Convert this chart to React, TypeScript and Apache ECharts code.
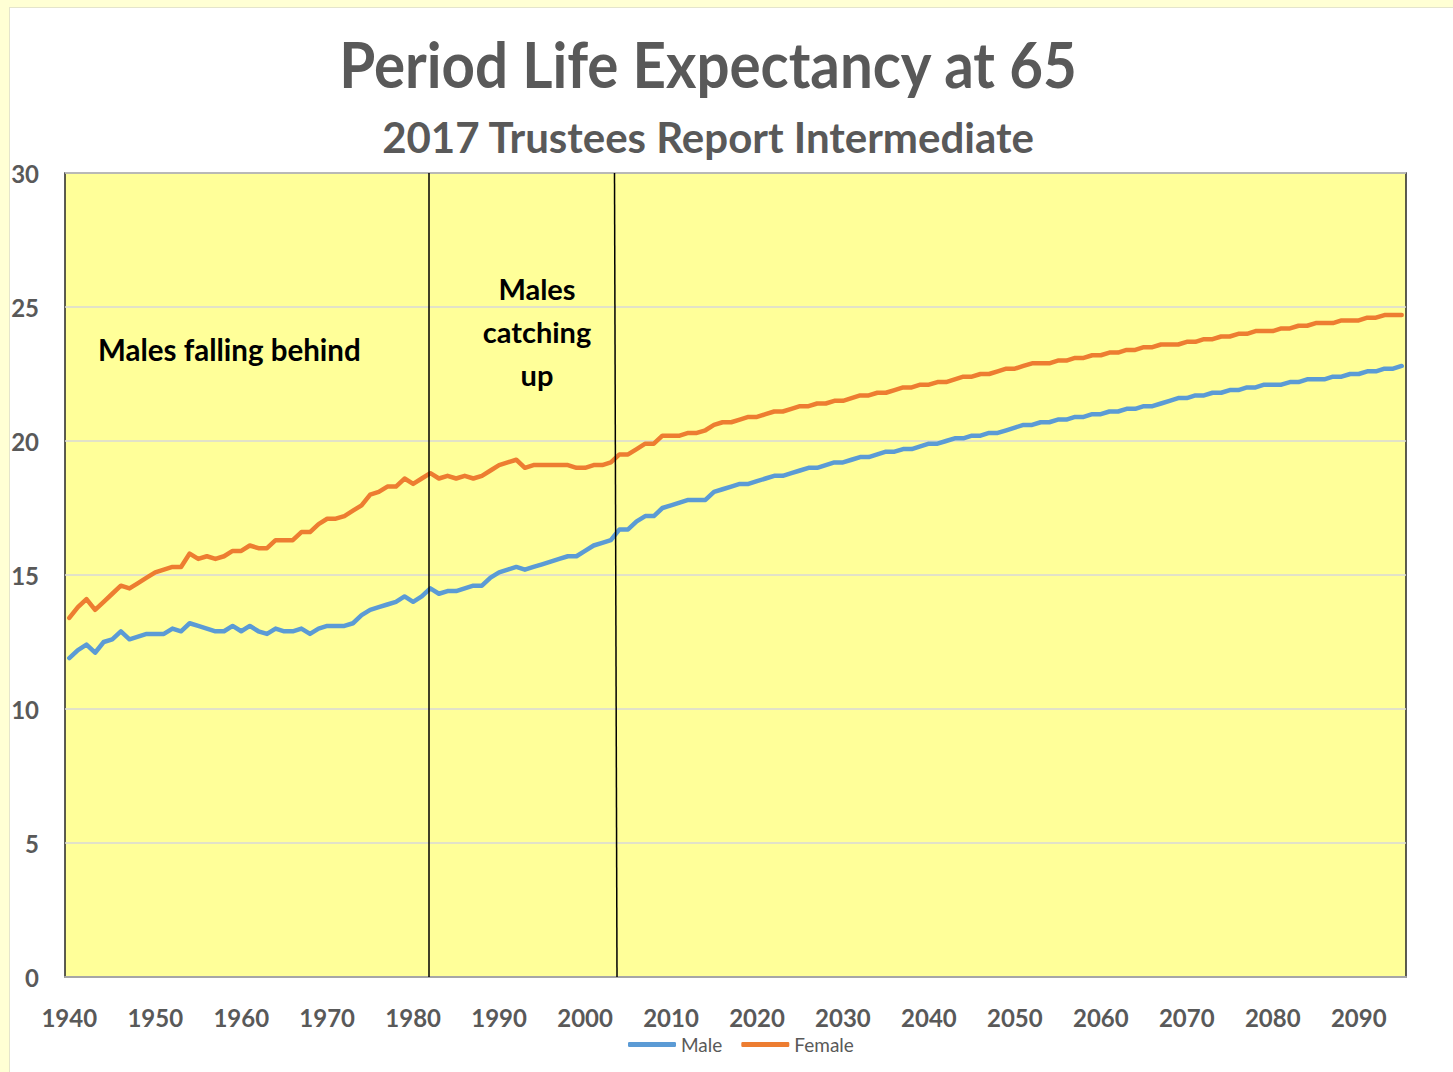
import React, { useEffect, useRef } from "react";
import * as echarts from "echarts";

const START_YEAR = 1940;

// Period life expectancy at 65, males (1940 .. 2095)
const male: number[] = [
  11.9, 12.2, 12.4, 12.1, 12.5, 12.6, 12.9, 12.6, 12.7, 12.8,
  12.8, 12.8, 13.0, 12.9, 13.2, 13.1, 13.0, 12.9, 12.9, 13.1,
  12.9, 13.1, 12.9, 12.8, 13.0, 12.9, 12.9, 13.0, 12.8, 13.0,
  13.1, 13.1, 13.1, 13.2, 13.5, 13.7, 13.8, 13.9, 14.0, 14.2,
  14.0, 14.2, 14.5, 14.3, 14.4, 14.4, 14.5, 14.6, 14.6, 14.9,
  15.1, 15.2, 15.3, 15.2, 15.3, 15.4, 15.5, 15.6, 15.7, 15.7,
  15.9, 16.1, 16.2, 16.3, 16.7, 16.7, 17.0, 17.2, 17.2, 17.5,
  17.6, 17.7, 17.8, 17.8, 17.8, 18.1, 18.2, 18.3, 18.4, 18.4,
  18.5, 18.6, 18.7, 18.7, 18.8, 18.9, 19.0, 19.0, 19.1, 19.2,
  19.2, 19.3, 19.4, 19.4, 19.5, 19.6, 19.6, 19.7, 19.7, 19.8,
  19.9, 19.9, 20.0, 20.1, 20.1, 20.2, 20.2, 20.3, 20.3, 20.4,
  20.5, 20.6, 20.6, 20.7, 20.7, 20.8, 20.8, 20.9, 20.9, 21.0,
  21.0, 21.1, 21.1, 21.2, 21.2, 21.3, 21.3, 21.4, 21.5, 21.6,
  21.6, 21.7, 21.7, 21.8, 21.8, 21.9, 21.9, 22.0, 22.0, 22.1,
  22.1, 22.1, 22.2, 22.2, 22.3, 22.3, 22.3, 22.4, 22.4, 22.5,
  22.5, 22.6, 22.6, 22.7, 22.7, 22.8,
];

// Period life expectancy at 65, females (1940 .. 2095)
const female: number[] = [
  13.4, 13.8, 14.1, 13.7, 14.0, 14.3, 14.6, 14.5, 14.7, 14.9,
  15.1, 15.2, 15.3, 15.3, 15.8, 15.6, 15.7, 15.6, 15.7, 15.9,
  15.9, 16.1, 16.0, 16.0, 16.3, 16.3, 16.3, 16.6, 16.6, 16.9,
  17.1, 17.1, 17.2, 17.4, 17.6, 18.0, 18.1, 18.3, 18.3, 18.6,
  18.4, 18.6, 18.8, 18.6, 18.7, 18.6, 18.7, 18.6, 18.7, 18.9,
  19.1, 19.2, 19.3, 19.0, 19.1, 19.1, 19.1, 19.1, 19.1, 19.0,
  19.0, 19.1, 19.1, 19.2, 19.5, 19.5, 19.7, 19.9, 19.9, 20.2,
  20.2, 20.2, 20.3, 20.3, 20.4, 20.6, 20.7, 20.7, 20.8, 20.9,
  20.9, 21.0, 21.1, 21.1, 21.2, 21.3, 21.3, 21.4, 21.4, 21.5,
  21.5, 21.6, 21.7, 21.7, 21.8, 21.8, 21.9, 22.0, 22.0, 22.1,
  22.1, 22.2, 22.2, 22.3, 22.4, 22.4, 22.5, 22.5, 22.6, 22.7,
  22.7, 22.8, 22.9, 22.9, 22.9, 23.0, 23.0, 23.1, 23.1, 23.2,
  23.2, 23.3, 23.3, 23.4, 23.4, 23.5, 23.5, 23.6, 23.6, 23.6,
  23.7, 23.7, 23.8, 23.8, 23.9, 23.9, 24.0, 24.0, 24.1, 24.1,
  24.1, 24.2, 24.2, 24.3, 24.3, 24.4, 24.4, 24.4, 24.5, 24.5,
  24.5, 24.6, 24.6, 24.7, 24.7, 24.7,
];

const years: string[] = male.map((_, i) => String(START_YEAR + i));
const seriesNames = ["Male", "Female"];
const seriesColors = ["#5B9BD5", "#ED7D31"];
const titleText = "Period Life Expectancy at 65";
const subtitleText = "2017 Trustees Report Intermediate";
const noteLeft = "Males falling behind";
const noteMiddle = "Males\ncatching\nup";

const FONT = "Lato, 'Noto Sans', sans-serif";
const GRAY = "#595959";

export default function App() {
  const ref = useRef<HTMLDivElement>(null);

  useEffect(() => {
    if (!ref.current) return;
    const chart = echarts.init(ref.current, undefined, { renderer: "svg" });
    const option: any = {
      animation: false,
      backgroundColor: "transparent",
      textStyle: { fontFamily: FONT },
      grid: {
        left: 65,
        top: 173,
        right: 47,
        bottom: 95,
        show: true,
        backgroundColor: "#FFFF99",
        borderColor: "#262626",
        borderWidth: 1.5,
      },
      xAxis: {
        type: "category",
        data: years,
        boundaryGap: true,
        axisLine: { show: true, lineStyle: { color: "#A6A6A6", width: 2 } },
        axisTick: { show: false },
        axisLabel: {
          interval: (i: number) => i % 10 === 0,
          margin: 28,
          fontSize: 24,
          fontWeight: "bold",
          color: GRAY,
          fontFamily: FONT,
        },
        splitLine: { show: false },
      },
      yAxis: {
        type: "value",
        min: 0,
        max: 30,
        interval: 5,
        axisLine: { show: false },
        axisTick: { show: false },
        axisLabel: {
          margin: 26,
          fontSize: 24,
          fontWeight: "bold",
          color: GRAY,
          fontFamily: FONT,
        },
        splitLine: { lineStyle: { color: "#D9D9D9", width: 1.5 } },
      },
      legend: {
        data: seriesNames,
        left: 628,
        top: 1035,
        padding: 0,
        itemWidth: 48,
        itemHeight: 5,
        itemGap: 19,
        icon: "roundRect",
        textStyle: { fontSize: 19, color: GRAY, fontFamily: FONT },
      },
      series: [
        {
          name: seriesNames[0],
          type: "line",
          data: male,
          symbol: "none",
          color: seriesColors[0],
          lineStyle: { width: 4.5, color: seriesColors[0], cap: "round", join: "round" },
          z: 3,
        },
        {
          name: seriesNames[1],
          type: "line",
          data: female,
          symbol: "none",
          color: seriesColors[1],
          lineStyle: { width: 4.5, color: seriesColors[1], cap: "round", join: "round" },
          z: 3,
        },
      ],
      graphic: [
        {
          type: "text",
          x: 708,
          y: 63,
          scaleX: 0.91,
          style: {
            text: titleText,
            fontSize: 64,
            fontWeight: "bold",
            fontFamily: FONT,
            fill: GRAY,
            align: "center",
            verticalAlign: "middle",
          },
        },
        {
          type: "text",
          x: 708,
          y: 137,
          style: {
            text: subtitleText,
            fontSize: 42,
            fontWeight: "bold",
            fontFamily: FONT,
            fill: GRAY,
            align: "center",
            verticalAlign: "middle",
          },
        },
        {
          type: "text",
          x: 98,
          y: 349,
          z: 50,
          style: {
            text: noteLeft,
            fontSize: 29.5,
            fontWeight: "bold",
            fontFamily: FONT,
            fill: "#000000",
            align: "left",
            verticalAlign: "middle",
          },
        },
        {
          type: "text",
          x: 537,
          y: 331,
          z: 50,
          style: {
            text: noteMiddle,
            fontSize: 29,
            fontWeight: "bold",
            fontFamily: FONT,
            fill: "#000000",
            align: "center",
            verticalAlign: "middle",
            lineHeight: 43,
          },
        },
        {
          type: "line",
          z: 100,
          shape: { x1: 429, y1: 173, x2: 429, y2: 977 },
          style: { stroke: "#000000", lineWidth: 1.5 },
        },
        {
          type: "line",
          z: 100,
          shape: { x1: 614.5, y1: 173, x2: 617, y2: 977 },
          style: { stroke: "#000000", lineWidth: 1.5 },
        },
      ],
    };
    chart.setOption(option);
    return () => chart.dispose();
  }, []);

  return (
    <div style={{ position: "fixed", left: 0, top: 0, width: 1453, height: 1072, background: "#FFFFD4", overflow: "hidden" }}>
      <div
        style={{
          position: "absolute",
          left: 9,
          top: 7,
          width: 1453,
          height: 1072,
          background: "#FFFFFF",
          borderLeft: "1px solid #E4E4CC",
          borderTop: "1px solid #E4E4CC",
        }}
      />
      <div ref={ref} style={{ position: "absolute", left: 0, top: 0, width: 1453, height: 1072 }} />
    </div>
  );
}
